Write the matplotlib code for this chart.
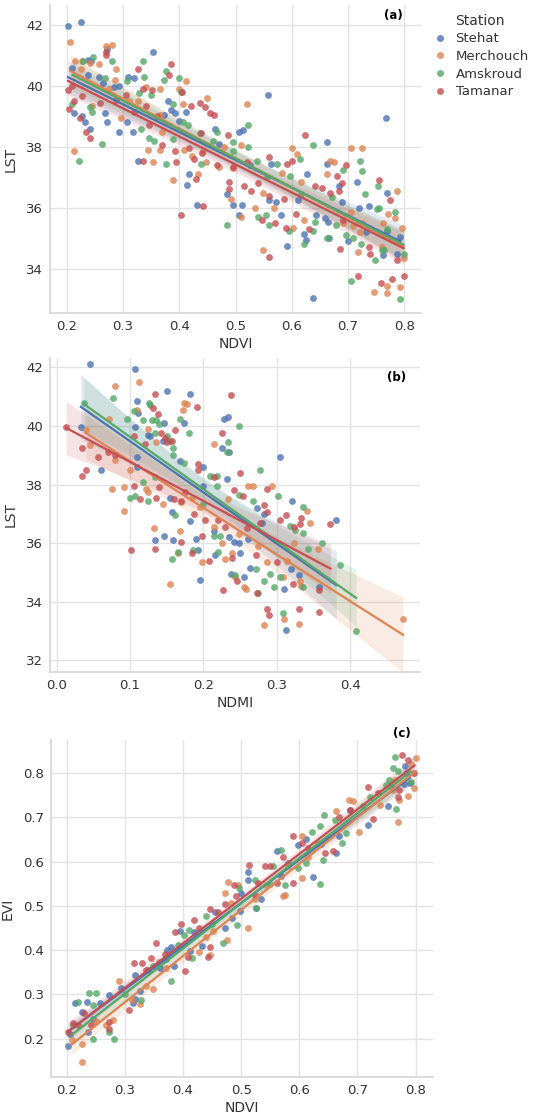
import numpy as np
import matplotlib
matplotlib.use("Agg")
import matplotlib.pyplot as plt
from matplotlib.lines import Line2D

stations = ["Stehat", "Merchouch", "Amskroud", "Tamanar"]
colors = ["#4C72B0", "#DD8452", "#55A868", "#C44E52"]

# ---------- panel (a): NDVI vs LST ----------
a_stehat = [(0.202,41.95),(0.225,42.1),(0.21,40.6),(0.237,40.85),(0.243,40.8),(0.237,40.35),(0.257,40.3),(0.264,40.1),(0.271,41.2),(0.283,39.95),(0.292,40.0),(0.308,40.3),(0.319,40.25),(0.213,39.1),(0.227,39.0),(0.233,38.8),(0.241,38.6),(0.267,39.1),(0.272,38.8),(0.292,38.5),(0.307,38.8),(0.317,38.5),(0.326,37.55),(0.353,41.1),(0.38,39.5),(0.372,39.05),(0.385,39.2),(0.393,39.1),(0.412,39.15),(0.40,38.85),(0.413,36.75),(0.418,37.1),(0.432,36.1),(0.463,38.6),(0.47,38.1),(0.485,36.45),(0.495,36.1),(0.507,38.5),(0.513,38.55),(0.512,36.1),(0.507,35.75),(0.525,37.4),(0.557,39.7),(0.559,36.25),(0.564,37.45),(0.572,36.2),(0.581,35.75),(0.592,34.75),(0.612,36.25),(0.622,35.15),(0.625,34.95),(0.627,37.1),(0.637,33.05),(0.644,35.75),(0.66,35.65),(0.663,37.45),(0.664,35.55),(0.663,38.15),(0.666,35.0),(0.69,36.2),(0.685,36.7),(0.70,34.9),(0.717,36.85),(0.72,36.0),(0.733,35.2),(0.737,36.05),(0.767,38.95),(0.77,36.5),(0.762,34.45),(0.788,34.5),(0.793,35.05),(0.77,35.25)]
a_merchouch = [(0.206,41.45),(0.215,40.8),(0.225,40.55),(0.227,40.8),(0.213,37.85),(0.241,40.75),(0.245,39.35),(0.258,40.7),(0.28,41.35),(0.27,41.3),(0.288,40.55),(0.275,39.9),(0.285,40.2),(0.296,38.95),(0.31,39.5),(0.327,39.5),(0.34,39.95),(0.365,39.9),(0.344,37.9),(0.354,37.5),(0.369,38.5),(0.365,37.9),(0.365,39.05),(0.389,36.9),(0.399,39.9),(0.412,40.15),(0.407,39.4),(0.409,37.9),(0.423,37.7),(0.433,37.1),(0.449,39.6),(0.447,37.5),(0.442,37.85),(0.47,37.35),(0.479,38.0),(0.495,37.3),(0.492,36.3),(0.52,39.4),(0.51,35.7),(0.51,38.05),(0.549,36.5),(0.549,34.6),(0.534,36.0),(0.568,36.0),(0.583,37.15),(0.601,37.95),(0.602,35.35),(0.61,37.75),(0.616,36.85),(0.621,35.6),(0.663,37.1),(0.669,37.55),(0.676,37.5),(0.705,37.95),(0.725,37.95),(0.706,35.85),(0.692,35.5),(0.709,35.4),(0.718,34.55),(0.725,35.5),(0.722,35.2),(0.746,33.25),(0.772,35.8),(0.77,33.2),(0.769,33.45),(0.787,36.55),(0.784,35.65),(0.796,35.35),(0.799,34.35),(0.793,33.4),(0.761,34.7),(0.762,35.5)]
a_amskroud = [(0.21,39.4),(0.222,37.55),(0.228,40.8),(0.247,40.95),(0.241,39.3),(0.244,39.15),(0.263,38.1),(0.281,40.8),(0.268,40.25),(0.307,40.15),(0.328,39.75),(0.336,40.8),(0.338,40.3),(0.331,38.6),(0.346,38.3),(0.355,38.2),(0.35,39.7),(0.376,40.5),(0.373,40.2),(0.376,37.45),(0.389,39.4),(0.389,38.25),(0.399,40.25),(0.407,38.8),(0.415,38.7),(0.403,39.8),(0.436,38.45),(0.439,37.45),(0.46,38.2),(0.467,38.5),(0.485,35.45),(0.496,38.15),(0.496,37.85),(0.522,38.0),(0.523,38.7),(0.539,37.55),(0.54,35.7),(0.555,35.75),(0.556,37.0),(0.56,35.45),(0.573,37.45),(0.597,37.05),(0.595,35.25),(0.616,36.45),(0.614,37.6),(0.637,38.05),(0.622,34.8),(0.638,35.25),(0.642,35.55),(0.663,35.0),(0.672,36.35),(0.679,35.45),(0.691,37.25),(0.696,35.1),(0.709,35.0),(0.706,33.6),(0.721,37.55),(0.725,37.2),(0.731,36.45),(0.724,34.8),(0.749,34.3),(0.754,36.7),(0.751,35.95),(0.755,36.0),(0.761,34.6),(0.765,34.6),(0.783,35.85),(0.793,33.0),(0.799,34.5),(0.77,35.3)]
a_tamanar = [(0.202,39.85),(0.203,39.25),(0.209,40.0),(0.213,39.5),(0.227,39.65),(0.224,38.95),(0.234,38.5),(0.241,38.3),(0.27,41.1),(0.27,41.0),(0.259,39.45),(0.288,39.55),(0.306,39.7),(0.319,39.15),(0.326,40.55),(0.336,37.55),(0.335,39.9),(0.341,39.35),(0.346,38.7),(0.352,39.85),(0.361,39.0),(0.369,38.05),(0.385,40.7),(0.382,40.35),(0.393,37.85),(0.395,37.5),(0.404,39.8),(0.403,35.75),(0.421,39.35),(0.417,37.95),(0.427,37.6),(0.43,36.95),(0.436,39.45),(0.439,38.45),(0.441,37.8),(0.442,36.05),(0.446,39.3),(0.454,39.1),(0.461,39.05),(0.467,37.4),(0.487,38.4),(0.489,36.85),(0.488,36.6),(0.495,37.35),(0.515,36.7),(0.52,37.5),(0.528,36.55),(0.54,36.8),(0.548,35.6),(0.559,37.65),(0.56,34.4),(0.56,36.4),(0.571,35.5),(0.586,36.3),(0.591,37.45),(0.6,37.55),(0.59,35.35),(0.624,38.4),(0.607,35.8),(0.63,35.3),(0.642,36.7),(0.654,36.65),(0.669,36.5),(0.681,37.05),(0.685,36.55),(0.69,36.8),(0.686,34.65),(0.692,35.6),(0.696,37.4),(0.718,33.75),(0.739,34.5),(0.737,34.7),(0.755,36.9),(0.759,33.55),(0.774,36.25),(0.778,33.65),(0.787,34.3),(0.799,33.75)]

# ---------- panel (b): NDMI vs LST ----------
b_stehat = [(0.045,42.1),(0.107,41.95),(0.109,40.85),(0.15,41.2),(0.182,41.1),(0.033,39.95),(0.061,38.5),(0.107,39.95),(0.111,40.45),(0.125,39.7),(0.127,39.65),(0.109,38.95),(0.11,38.6),(0.146,40.1),(0.145,39.5),(0.173,40.1),(0.168,38.8),(0.155,37.55),(0.157,37.05),(0.146,36.25),(0.134,36.1),(0.158,36.1),(0.182,36.75),(0.19,36.15),(0.192,35.75),(0.195,34.75),(0.20,38.6),(0.20,37.95),(0.214,36.4),(0.216,35.6),(0.228,40.25),(0.234,40.3),(0.225,39.25),(0.235,39.1),(0.232,38.2),(0.235,36.2),(0.238,34.95),(0.241,36.05),(0.248,36.0),(0.255,34.85),(0.25,35.65),(0.261,36.15),(0.263,35.15),(0.273,37.2),(0.28,36.7),(0.282,37.0),(0.304,38.95),(0.31,34.45),(0.313,33.05),(0.32,37.45),(0.319,35.1),(0.33,34.9),(0.357,34.5),(0.381,36.8)]
b_merchouch = [(0.04,39.85),(0.046,39.35),(0.072,40.25),(0.08,41.35),(0.075,37.85),(0.08,38.85),(0.092,37.1),(0.1,38.5),(0.092,37.9),(0.112,41.5),(0.109,40.55),(0.125,39.9),(0.122,37.85),(0.125,37.75),(0.132,36.5),(0.136,39.45),(0.145,37.35),(0.155,34.6),(0.166,35.65),(0.168,36.4),(0.17,37.4),(0.173,40.8),(0.177,40.75),(0.172,40.55),(0.185,37.55),(0.195,37.25),(0.198,35.35),(0.214,39.4),(0.214,36.55),(0.225,36.0),(0.23,35.45),(0.233,37.5),(0.239,35.65),(0.243,34.85),(0.255,34.5),(0.258,34.45),(0.249,36.3),(0.261,37.95),(0.268,37.95),(0.275,35.9),(0.282,33.2),(0.286,35.35),(0.293,37.95),(0.309,34.85),(0.31,33.4),(0.314,35.4),(0.33,33.25),(0.333,34.55),(0.341,37.1),(0.345,36.7),(0.356,35.8),(0.472,33.4),(0.323,36.0),(0.332,34.7)]
b_amskroud = [(0.037,40.8),(0.077,40.95),(0.096,40.25),(0.105,40.5),(0.1,37.55),(0.107,37.6),(0.118,40.2),(0.126,40.8),(0.127,40.7),(0.13,40.2),(0.136,40.2),(0.134,39.75),(0.14,40.05),(0.15,39.65),(0.155,39.5),(0.158,39.25),(0.159,39.0),(0.118,38.1),(0.125,37.45),(0.134,38.25),(0.157,35.45),(0.161,36.95),(0.166,35.7),(0.168,40.25),(0.18,39.75),(0.173,38.75),(0.186,35.75),(0.2,37.35),(0.209,38.3),(0.218,38.3),(0.218,37.95),(0.22,35.7),(0.214,36.25),(0.223,36.25),(0.234,39.45),(0.232,39.1),(0.249,40.0),(0.249,37.65),(0.243,34.9),(0.268,37.45),(0.271,35.1),(0.275,34.3),(0.277,38.5),(0.282,34.7),(0.29,34.95),(0.296,34.5),(0.301,37.6),(0.304,34.85),(0.308,33.6),(0.318,36.6),(0.325,36.45),(0.336,37.25),(0.336,36.35),(0.336,34.5),(0.343,35.8),(0.361,36.0),(0.386,35.25),(0.408,33.0)]
b_tamanar = [(0.013,39.95),(0.035,39.25),(0.04,38.5),(0.035,38.3),(0.056,38.95),(0.07,39.1),(0.079,39.0),(0.101,35.75),(0.105,37.95),(0.105,39.65),(0.114,37.5),(0.12,39.4),(0.134,41.1),(0.131,40.6),(0.134,35.8),(0.136,37.55),(0.14,37.9),(0.138,40.4),(0.142,39.75),(0.148,39.6),(0.15,39.45),(0.157,39.5),(0.161,39.85),(0.16,37.5),(0.17,37.45),(0.17,36.05),(0.175,37.75),(0.187,37.0),(0.191,40.65),(0.193,38.5),(0.192,38.7),(0.184,35.65),(0.202,36.8),(0.198,36.25),(0.207,35.4),(0.214,38.25),(0.22,36.8),(0.227,34.4),(0.225,39.75),(0.23,36.55),(0.237,41.05),(0.239,35.5),(0.241,37.8),(0.246,34.7),(0.25,38.4),(0.254,37.6),(0.26,36.5),(0.272,35.6),(0.273,34.3),(0.277,36.7),(0.282,37.3),(0.286,37.85),(0.286,33.75),(0.289,33.55),(0.286,37.05),(0.3,35.35),(0.304,36.8),(0.313,36.95),(0.322,34.6),(0.33,33.75),(0.332,36.65),(0.333,36.85),(0.357,33.65),(0.357,34.4),(0.373,36.65),(0.323,36.55)]

# ---------- panel (c): NDVI vs EVI ----------
c_stehat = [(0.203,0.183),(0.206,0.211),(0.214,0.281),(0.226,0.26),(0.235,0.283),(0.237,0.214),(0.245,0.245),(0.258,0.28),(0.272,0.298),(0.293,0.315),(0.317,0.343),(0.314,0.281),(0.326,0.308),(0.317,0.289),(0.36,0.36),(0.37,0.379),(0.373,0.40),(0.379,0.408),(0.385,0.365),(0.395,0.442),(0.412,0.398),(0.419,0.44),(0.432,0.409),(0.455,0.487),(0.473,0.449),(0.484,0.472),(0.498,0.489),(0.512,0.576),(0.512,0.558),(0.526,0.496),(0.535,0.515),(0.561,0.625),(0.568,0.568),(0.581,0.596),(0.598,0.638),(0.611,0.651),(0.624,0.566),(0.638,0.64),(0.669,0.657),(0.664,0.62),(0.687,0.717),(0.718,0.683),(0.752,0.726),(0.781,0.817),(0.783,0.80),(0.79,0.777),(0.758,0.77),(0.34,0.355),(0.50,0.53),(0.78,0.775)]
c_merchouch = [(0.209,0.196),(0.227,0.147),(0.227,0.187),(0.268,0.23),(0.28,0.243),(0.29,0.33),(0.312,0.288),(0.326,0.278),(0.336,0.318),(0.348,0.313),(0.359,0.374),(0.427,0.395),(0.446,0.389),(0.451,0.444),(0.472,0.53),(0.477,0.555),(0.475,0.423),(0.483,0.506),(0.495,0.547),(0.512,0.451),(0.523,0.515),(0.543,0.547),(0.572,0.523),(0.575,0.524),(0.604,0.657),(0.604,0.562),(0.615,0.61),(0.632,0.642),(0.664,0.715),(0.685,0.74),(0.693,0.738),(0.703,0.666),(0.77,0.69),(0.787,0.749),(0.798,0.766),(0.80,0.834),(0.792,0.821),(0.764,0.785),(0.772,0.74),(0.738,0.728),(0.761,0.762),(0.44,0.43),(0.58,0.59),(0.37,0.36),(0.25,0.24)]
c_amskroud = [(0.22,0.283),(0.245,0.20),(0.238,0.302),(0.25,0.303),(0.245,0.275),(0.272,0.214),(0.282,0.198),(0.328,0.288),(0.349,0.365),(0.379,0.33),(0.392,0.411),(0.402,0.434),(0.41,0.445),(0.415,0.381),(0.44,0.477),(0.468,0.417),(0.493,0.457),(0.497,0.54),(0.525,0.494),(0.523,0.558),(0.555,0.59),(0.569,0.626),(0.576,0.547),(0.598,0.585),(0.612,0.598),(0.622,0.668),(0.635,0.681),(0.635,0.549),(0.64,0.604),(0.642,0.706),(0.661,0.694),(0.674,0.643),(0.681,0.664),(0.709,0.725),(0.721,0.747),(0.75,0.774),(0.764,0.836),(0.761,0.811),(0.77,0.806),(0.767,0.719),(0.792,0.779),(0.755,0.785),(0.21,0.23),(0.30,0.30),(0.45,0.46),(0.55,0.55)]
c_tamanar = [(0.202,0.215),(0.21,0.234),(0.22,0.23),(0.229,0.257),(0.241,0.23),(0.272,0.237),(0.272,0.222),(0.308,0.264),(0.316,0.37),(0.329,0.37),(0.337,0.355),(0.353,0.417),(0.345,0.383),(0.369,0.392),(0.386,0.44),(0.396,0.46),(0.404,0.353),(0.409,0.385),(0.419,0.468),(0.427,0.451),(0.443,0.385),(0.447,0.408),(0.446,0.492),(0.46,0.487),(0.472,0.504),(0.488,0.547),(0.492,0.522),(0.514,0.592),(0.523,0.525),(0.529,0.552),(0.541,0.589),(0.549,0.589),(0.561,0.551),(0.572,0.611),(0.59,0.657),(0.589,0.552),(0.604,0.642),(0.615,0.63),(0.644,0.619),(0.658,0.623),(0.669,0.702),(0.687,0.717),(0.718,0.768),(0.727,0.696),(0.735,0.755),(0.777,0.84),(0.787,0.83),(0.77,0.747),(0.798,0.80),(0.772,0.762)]

a_xticks = [0.2, 0.3, 0.4, 0.5, 0.6, 0.7, 0.8]
a_yticks = [34, 36, 38, 40, 42]
b_xticks = [0.0, 0.1, 0.2, 0.3, 0.4]
b_yticks = [32, 34, 36, 38, 40, 42]
c_xticks = [0.2, 0.3, 0.4, 0.5, 0.6, 0.7, 0.8]
c_yticks = [0.2, 0.3, 0.4, 0.5, 0.6, 0.7, 0.8]

plt.rcParams['font.family'] = ['DejaVu Sans']
fig = plt.figure(figsize=(5.5, 11.19), dpi=100)
W, H = 550.0, 1119.0

def add_ax(left, top, right, bottom):
    return fig.add_axes([left / W, 1 - bottom / H, (right - left) / W, (bottom - top) / H])

ax_a = add_ax(50, 5, 421, 313)
ax_b = add_ax(50, 358, 420, 672)
ax_c = add_ax(51, 740, 433, 1077)

def regline(ax, pts, color):
    arr = np.array(pts)
    x, y = arr[:, 0], arr[:, 1]
    ax.scatter(x, y, s=24, color=color, alpha=0.8, linewidths=0, zorder=3)
    n = len(x)
    b1, b0 = np.polyfit(x, y, 1)
    grid = np.linspace(x.min(), x.max(), 100)
    yhat = b0 + b1 * grid
    resid = y - (b0 + b1 * x)
    s = np.sqrt(np.sum(resid ** 2) / (n - 2))
    sxx = np.sum((x - x.mean()) ** 2)
    se = s * np.sqrt(1.0 / n + (grid - x.mean()) ** 2 / sxx)
    ax.fill_between(grid, yhat - 1.98 * se, yhat + 1.98 * se, color=color, alpha=0.15, linewidth=0, zorder=2)
    ax.plot(grid, yhat, color=color, lw=1.6, zorder=4)

def style(ax, xticks, yticks, xlim, ylim, xlabel, ylabel, fmt_x, fmt_y):
    ax.set_xlim(*xlim)
    ax.set_ylim(*ylim)
    ax.set_xticks(xticks)
    ax.set_yticks(yticks)
    ax.set_xticklabels([fmt_x.format(v) for v in xticks])
    ax.set_yticklabels([fmt_y.format(v) for v in yticks])
    ax.grid(True, color='#e3e3e3', lw=1.0, zorder=0)
    ax.set_axisbelow(True)
    for sp in ['top', 'right']:
        ax.spines[sp].set_visible(False)
    for sp in ['left', 'bottom']:
        ax.spines[sp].set_color('#d5d5d5')
        ax.spines[sp].set_linewidth(1.2)
    ax.tick_params(length=0, labelsize=9.5, labelcolor='#333333', pad=5)
    ax.set_xlabel(xlabel, fontsize=10, color='#333333', labelpad=3)
    ax.set_ylabel(ylabel, fontsize=10, color='#333333', labelpad=6)

for pts, col in zip([a_stehat, a_merchouch, a_amskroud, a_tamanar], colors):
    regline(ax_a, pts, col)
for pts, col in zip([b_stehat, b_merchouch, b_amskroud, b_tamanar], colors):
    regline(ax_b, pts, col)
for pts, col in zip([c_stehat, c_merchouch, c_amskroud, c_tamanar], colors):
    regline(ax_c, pts, col)

style(ax_a, a_xticks, a_yticks, (0.17, 0.83), (32.55, 42.65), 'NDVI', 'LST', '{:.1f}', '{:d}')
style(ax_b, b_xticks, b_yticks, (-0.009, 0.495), (31.6, 42.32), 'NDMI', 'LST', '{:.1f}', '{:d}')
style(ax_c, c_xticks, c_yticks, (0.173, 0.83), (0.113, 0.875), 'NDVI', 'EVI', '{:.1f}', '{:.1f}')

fig.text(393 / W, 1 - 15 / H, '(a)', fontsize=8.5, fontweight='bold', ha='center', va='center')
fig.text(397 / W, 1 - 377 / H, '(b)', fontsize=8.5, fontweight='bold', ha='center', va='center')
fig.text(402 / W, 1 - 734 / H, '(c)', fontsize=8.5, fontweight='bold', ha='center', va='center')

handles = [Line2D([], [], marker='o', linestyle='', markersize=5, markerfacecolor=c,
                  markeredgewidth=0, alpha=0.8) for c in colors]
leg = fig.legend(handles, stations, title='Station', loc='upper left',
                 bbox_to_anchor=(420 / W, 1 - 2 / H), frameon=False,
                 fontsize=9.5, title_fontsize=10, handletextpad=0.6,
                 labelspacing=0.35, handlelength=1.2)
for t in leg.get_texts():
    t.set_color('#333333')
leg.get_title().set_color('#333333')

fig.savefig('out.png', dpi=100)
